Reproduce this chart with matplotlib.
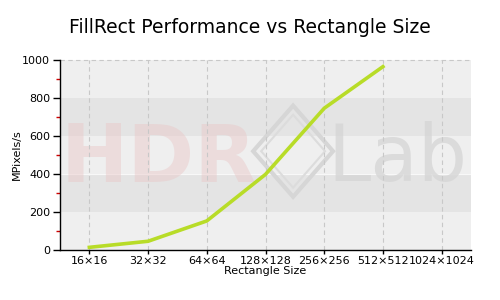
import matplotlib
matplotlib.use("Agg")
import matplotlib.pyplot as plt
from matplotlib.patches import Polygon

categories = ["16×16", "32×32", "64×64", "128×128", "256×256", "512×512", "1024×1024"]
values = [14, 46, 153, 398, 746, 965]
yticks = [0, 200, 400, 600, 800, 1000]

fig = plt.figure(figsize=(5, 3), dpi=100)
ax = fig.add_axes([60/500, 50/300, 411/500, 190/300])

ax.set_xlim(-0.5, 6.5)
ax.set_ylim(0, 1000)
ax.set_facecolor("#efefef")
for lo in (200, 600):
    ax.axhspan(lo, lo + 200, color="#e4e4e4", zorder=0, lw=0)
ax.axhline(400, color="#f8f8f8", lw=0.8, zorder=0.5)

# watermark
ax.text(1.19, 475, "HDR", fontsize=58, fontweight="bold", color="#e9c6c6",
        alpha=0.45, ha="center", va="center", zorder=0.6, family="DejaVu Sans",
        clip_on=True)
ax.text(5.24, 480, "Lab", fontsize=56, color="#d6d6d6", alpha=0.8,
        ha="center", va="center", zorder=0.6, family="DejaVu Sans", clip_on=True)
cx, cy, hw, hh = 3.47, 520, 0.68, 240
diamond = Polygon([(cx, cy + hh), (cx + hw, cy), (cx, cy - hh), (cx - hw, cy)], closed=True,
                  facecolor="none", edgecolor="#d6d6d6", lw=3, zorder=0.6)
ax.add_patch(diamond)
inner = Polygon([(cx, cy + hh*0.8), (cx + hw*0.8, cy), (cx, cy - hh*0.8), (cx - hw*0.8, cy)],
                closed=True, facecolor="none", edgecolor="#dcdcdc", lw=1.5, zorder=0.6)
ax.add_patch(inner)

for i in range(len(categories)):
    ax.axvline(i, color="#c8c8c8", lw=0.8, ls=(0, (4, 3)), zorder=1)
ax.axhline(1000, color="#c8c8c8", lw=0.8, ls=(0, (4, 3)), zorder=1, clip_on=False)

ax.plot(range(len(values)), values, color="#b8dc28", lw=2.6, zorder=3)

ax.set_xticks(range(len(categories)))
ax.set_xticklabels(categories, fontsize=8)
ax.set_yticks(yticks)
ax.set_yticklabels([str(v) for v in yticks], fontsize=8)
ax.set_yticks([100, 300, 500, 700, 900], minor=True)
ax.tick_params(axis="y", which="minor", length=3, color="#cc0000", width=1)
ax.tick_params(axis="y", which="major", length=5, width=1, pad=2)
ax.tick_params(axis="x", which="major", length=3, width=1, pad=1)

for s in ("top", "right"):
    ax.spines[s].set_visible(False)
ax.spines["left"].set_linewidth(1)
ax.spines["bottom"].set_linewidth(1)

ax.set_ylabel("MPixels/s", fontsize=8)
ax.yaxis.set_label_coords(-0.092, 0.5)
ax.set_xlabel("Rectangle Size", fontsize=8, labelpad=0)

fig.suptitle("FillRect Performance vs Rectangle Size", fontsize=13.5, y=0.94)

fig.savefig("out.png", dpi=100)
